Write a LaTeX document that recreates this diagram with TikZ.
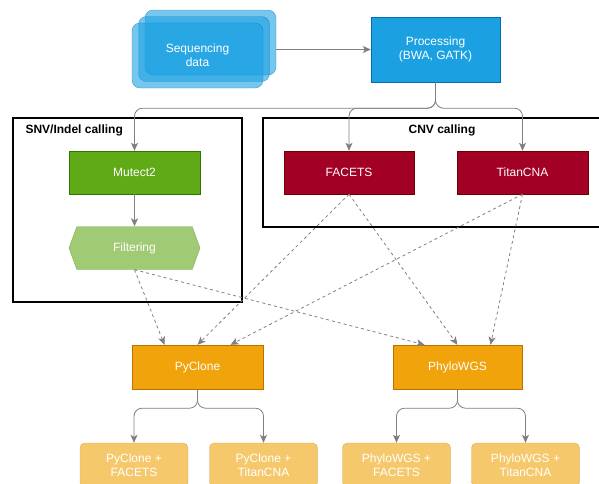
\documentclass[tikz,border=0pt]{standalone}
\usepackage{fontspec}
\setmainfont{Liberation Sans}
\usepackage{tikz}
\usetikzlibrary{arrows.meta,shapes.symbols}
\definecolor{seqblue}{HTML}{1BA1E2}
\definecolor{seqline}{HTML}{006EAF}
\definecolor{mutgreen}{HTML}{60A917}
\definecolor{mutline}{HTML}{2D7600}
\definecolor{filtgreen}{HTML}{A0CB74}
\definecolor{filtline}{HTML}{82B05A}
\definecolor{cnvred}{HTML}{A20025}
\definecolor{cnvline}{HTML}{6F0000}
\definecolor{clorange}{HTML}{F0A30A}
\definecolor{clline}{HTML}{BD7000}
\definecolor{resorange}{HTML}{F6C86C}
\definecolor{resline}{HTML}{DCA548}
\definecolor{flowgray}{HTML}{808080}

\begin{document}
\begin{tikzpicture}[x=1pt,y=-1pt,every node/.style={font=\fontsize{12}{14}\selectfont},
  box/.style n args={3}{draw=#2,fill=#1,minimum width=#3,minimum height=43pt,text=white,align=center,inner sep=0pt},
  resbox/.style={box={resorange}{resline}{108pt},minimum height=44pt,rounded corners=5pt},
  flow/.style={draw=flowgray,line width=0.8pt,-{Stealth[length=8pt,width=7pt,inset=2pt]},rounded corners=8pt},
  dflow/.style={flow,dash pattern=on 3pt off 3pt},
  group/.style={draw=black,line width=1.8pt,inner sep=0pt},
  grouplabel/.style={font=\bfseries\fontsize{12}{14}\selectfont}]
\useasboundingbox (0,0) rectangle (599,483);
\clip (0,0) rectangle (599,483);
% input
\foreach \i/\n in {2/seqc,1/seqb,0/seqa} {
  \node[draw=seqline,fill=seqblue,opacity=0.6,rounded corners=8pt,minimum width=131pt,minimum height=65pt] (\n) at (197.5+6.5*\i,55.5-6.5*\i) {};
}
\node[text=white,align=center] (seqtext) at (197.5,55.5) {Sequencing\\data};
\node[box={seqblue}{seqline}{129pt},minimum height=65pt] (proc) at (435.5,49.5) {Processing\\(BWA, GATK)};
\draw[flow] (seqc.east |- proc.west) -- (proc.west);
% groups
\node[group,minimum width=229pt,minimum height=184pt] (snvgroup) at (127.5,210) {};
\node[grouplabel,anchor=west] (snvlabel) at (22,130) {SNV/Indel calling};
\node[group,minimum width=347pt,minimum height=109pt] (cnvgroup) at (436.5,172.5) {};
\node[grouplabel] (cnvlabel) at (442,130) {CNV calling};
% callers
\node[box={mutgreen}{mutline}{131pt}] (mutect) at (134.5,172.5) {Mutect2};
\node[box={filtgreen}{filtline}{131pt},signal,signal to=west and east,signal pointer angle=140] (filt) at (134.5,248) {Filtering};
\node[box={cnvred}{cnvline}{130pt}] (facets) at (349,172.5) {FACETS};
\node[box={cnvred}{cnvline}{131pt}] (titan) at (522.5,172.5) {TitanCNA};
\draw[flow] (proc.south) -- ++(0,26) -| (mutect.north);
\draw[flow] (proc.south) -- ++(0,26) -| (facets.north);
\draw[flow] (proc.south) -- ++(0,26) -| (titan.north);
\draw[flow] (mutect.south) -- (filt.north);
% clonality
\node[box={clorange}{clline}{131pt},minimum height=44pt] (pyclone) at (197.5,367) {PyClone};
\node[box={clorange}{clline}{129pt},minimum height=44pt] (phylo) at (457.5,367) {PhyloWGS};
\foreach \src/\dx in {filt/-33,facets/0,titan/33} {
  \draw[dflow] (\src.south) -- ([xshift=\dx pt]pyclone.north);
  \draw[dflow] (\src.south) -- ([xshift=\dx pt]phylo.north);
}
% results
\node[resbox] (pyfacets) at (134,465) {PyClone +\\FACETS};
\node[resbox] (pytitan) at (263.5,465) {PyClone +\\TitanCNA};
\node[resbox] (phfacets) at (396.5,465) {PhyloWGS +\\FACETS};
\node[resbox] (phtitan) at (525.5,465) {PhyloWGS +\\TitanCNA};
\foreach \src/\dst in {pyclone/pyfacets,pyclone/pytitan,phylo/phfacets,phylo/phtitan} {
  \draw[flow] (\src.south) -- ++(0,19) -| (\dst.north);
}
\end{tikzpicture}
\end{document}
